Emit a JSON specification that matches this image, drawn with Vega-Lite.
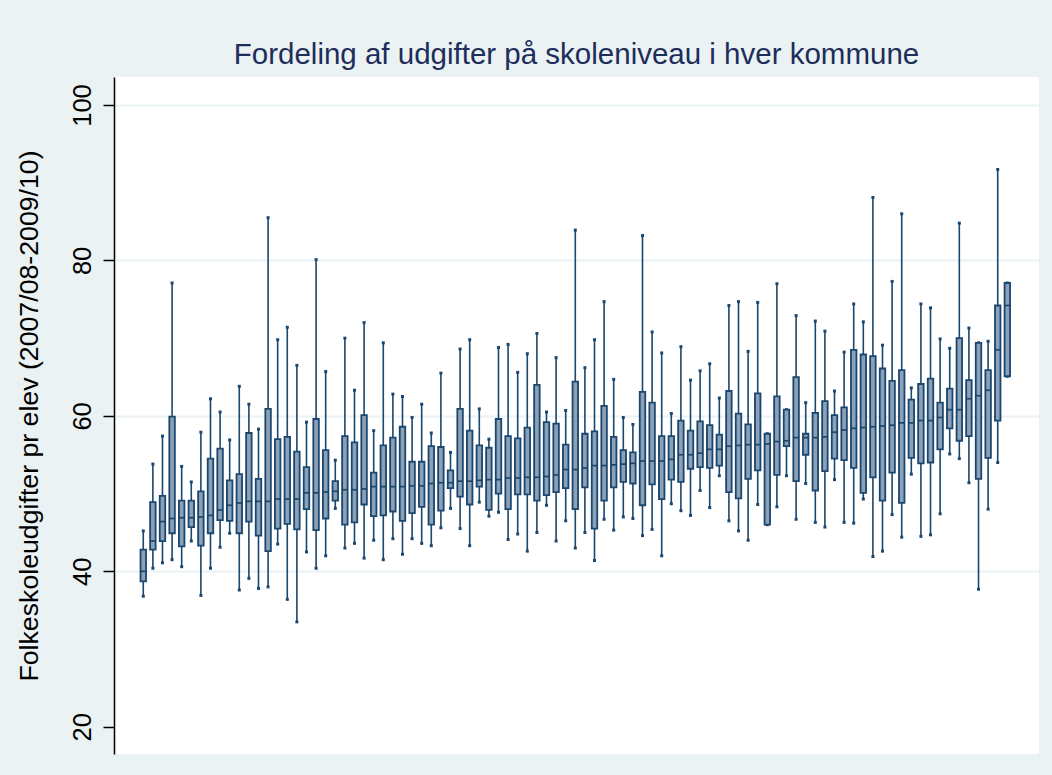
{
  "$schema": "https://vega.github.io/schema/vega-lite/v6.json",
  "width": 925,
  "height": 677,
  "autosize": "none",
  "padding": {"left": 114, "top": 77, "right": 13, "bottom": 21},
  "background": "#EAF2F3",
  "config": {
    "view": {"fill": "white", "stroke": null},
    "font": "Liberation Sans"
  },
  "title": {
    "text": "Fordeling af udgifter på skoleniveau i hver kommune",
    "fontSize": 29.5,
    "font": "Liberation Sans",
    "fontWeight": "normal",
    "color": "#1e2d5a",
    "anchor": "middle",
    "offset": 7
  },
  "data": {
    "values": [
      {"i":1,"lo":36.8,"q1":38.7,"med":40.0,"q3":42.8,"hi":45.2},
      {"i":2,"lo":40.4,"q1":42.8,"med":43.9,"q3":48.9,"hi":53.8},
      {"i":3,"lo":41.1,"q1":43.9,"med":46.4,"q3":49.7,"hi":57.4},
      {"i":4,"lo":41.5,"q1":44.9,"med":46.8,"q3":59.9,"hi":77.1},
      {"i":5,"lo":40.6,"q1":43.2,"med":46.9,"q3":49.1,"hi":53.5},
      {"i":6,"lo":43.9,"q1":45.7,"med":46.9,"q3":49.1,"hi":51.5},
      {"i":7,"lo":36.9,"q1":43.3,"med":47.0,"q3":50.3,"hi":57.9},
      {"i":8,"lo":40.4,"q1":44.9,"med":47.2,"q3":54.5,"hi":62.2},
      {"i":9,"lo":43.1,"q1":46.6,"med":47.9,"q3":55.8,"hi":60.5},
      {"i":10,"lo":44.9,"q1":46.5,"med":48.5,"q3":51.7,"hi":56.9},
      {"i":11,"lo":37.6,"q1":44.9,"med":48.8,"q3":52.5,"hi":63.8},
      {"i":12,"lo":39.1,"q1":46.4,"med":49.0,"q3":57.8,"hi":61.5},
      {"i":13,"lo":37.8,"q1":44.6,"med":49.0,"q3":51.9,"hi":58.3},
      {"i":14,"lo":38.0,"q1":42.6,"med":49.0,"q3":60.9,"hi":85.5},
      {"i":15,"lo":43.5,"q1":45.5,"med":49.3,"q3":57.0,"hi":69.8},
      {"i":16,"lo":36.4,"q1":46.1,"med":49.3,"q3":57.3,"hi":71.4},
      {"i":17,"lo":33.5,"q1":45.4,"med":49.3,"q3":55.4,"hi":66.5},
      {"i":18,"lo":42.5,"q1":48.0,"med":50.1,"q3":53.4,"hi":59.2},
      {"i":19,"lo":40.4,"q1":45.3,"med":50.1,"q3":59.6,"hi":80.1},
      {"i":20,"lo":42.0,"q1":46.8,"med":50.2,"q3":55.6,"hi":65.7},
      {"i":21,"lo":48.1,"q1":49.1,"med":50.3,"q3":51.6,"hi":54.3},
      {"i":22,"lo":43.0,"q1":46.0,"med":50.5,"q3":57.4,"hi":70.0},
      {"i":23,"lo":43.6,"q1":46.3,"med":50.5,"q3":56.6,"hi":63.3},
      {"i":24,"lo":41.7,"q1":48.6,"med":50.6,"q3":60.1,"hi":72.0},
      {"i":25,"lo":44.0,"q1":47.1,"med":50.9,"q3":52.7,"hi":58.1},
      {"i":26,"lo":41.5,"q1":47.2,"med":50.9,"q3":56.2,"hi":69.4},
      {"i":27,"lo":44.2,"q1":47.7,"med":50.9,"q3":57.2,"hi":62.8},
      {"i":28,"lo":42.2,"q1":46.5,"med":50.9,"q3":58.6,"hi":62.5},
      {"i":29,"lo":44.2,"q1":47.5,"med":51.0,"q3":54.1,"hi":59.8},
      {"i":30,"lo":43.6,"q1":48.3,"med":51.0,"q3":54.1,"hi":61.5},
      {"i":31,"lo":43.3,"q1":46.0,"med":51.3,"q3":56.1,"hi":57.8},
      {"i":32,"lo":45.6,"q1":47.8,"med":51.4,"q3":56.0,"hi":65.5},
      {"i":33,"lo":48.1,"q1":50.7,"med":51.4,"q3":53.0,"hi":55.3},
      {"i":34,"lo":45.5,"q1":49.6,"med":51.6,"q3":60.9,"hi":68.6},
      {"i":35,"lo":43.3,"q1":48.6,"med":51.6,"q3":58.1,"hi":69.8},
      {"i":36,"lo":48.9,"q1":50.9,"med":51.7,"q3":56.2,"hi":60.9},
      {"i":37,"lo":47.1,"q1":47.9,"med":51.8,"q3":55.9,"hi":57.0},
      {"i":38,"lo":47.6,"q1":50.0,"med":51.8,"q3":59.6,"hi":68.8},
      {"i":39,"lo":44.1,"q1":48.0,"med":52.0,"q3":57.4,"hi":69.2},
      {"i":40,"lo":44.8,"q1":49.9,"med":52.0,"q3":57.1,"hi":65.6},
      {"i":41,"lo":42.6,"q1":49.9,"med":52.1,"q3":58.5,"hi":68.0},
      {"i":42,"lo":45.0,"q1":49.1,"med":52.1,"q3":64.0,"hi":70.6},
      {"i":43,"lo":48.5,"q1":49.8,"med":52.2,"q3":59.2,"hi":60.5},
      {"i":44,"lo":43.9,"q1":50.2,"med":52.4,"q3":59.0,"hi":67.5},
      {"i":45,"lo":46.5,"q1":50.7,"med":53.1,"q3":56.3,"hi":60.7},
      {"i":46,"lo":43.0,"q1":48.0,"med":53.1,"q3":64.4,"hi":83.9},
      {"i":47,"lo":45.0,"q1":50.8,"med":53.3,"q3":57.7,"hi":66.2},
      {"i":48,"lo":41.4,"q1":45.5,"med":53.6,"q3":58.0,"hi":69.8},
      {"i":49,"lo":46.7,"q1":49.1,"med":53.6,"q3":61.3,"hi":74.7},
      {"i":50,"lo":45.3,"q1":50.8,"med":53.7,"q3":57.3,"hi":64.7},
      {"i":51,"lo":47.0,"q1":51.5,"med":53.8,"q3":55.6,"hi":59.8},
      {"i":52,"lo":46.8,"q1":51.3,"med":53.9,"q3":55.3,"hi":58.9},
      {"i":53,"lo":44.6,"q1":48.5,"med":54.2,"q3":63.1,"hi":83.2},
      {"i":54,"lo":45.4,"q1":51.2,"med":54.2,"q3":61.7,"hi":70.8},
      {"i":55,"lo":42.0,"q1":49.3,"med":54.2,"q3":57.4,"hi":68.1},
      {"i":56,"lo":48.7,"q1":51.8,"med":54.4,"q3":57.4,"hi":60.3},
      {"i":57,"lo":47.8,"q1":51.5,"med":55.0,"q3":59.4,"hi":68.9},
      {"i":58,"lo":47.2,"q1":53.2,"med":55.0,"q3":58.1,"hi":64.6},
      {"i":59,"lo":50.4,"q1":53.4,"med":55.2,"q3":59.3,"hi":65.8},
      {"i":60,"lo":48.2,"q1":53.3,"med":55.7,"q3":58.8,"hi":66.7},
      {"i":61,"lo":52.3,"q1":53.6,"med":55.7,"q3":57.6,"hi":62.3},
      {"i":62,"lo":46.5,"q1":50.2,"med":56.1,"q3":63.2,"hi":74.2},
      {"i":63,"lo":45.2,"q1":49.4,"med":56.2,"q3":60.3,"hi":74.7},
      {"i":64,"lo":44.0,"q1":51.9,"med":56.3,"q3":58.9,"hi":68.3},
      {"i":65,"lo":48.6,"q1":53.0,"med":56.3,"q3":62.9,"hi":74.6},
      {"i":66,"lo":46.0,"q1":46.0,"med":56.4,"q3":57.7,"hi":57.7},
      {"i":67,"lo":48.3,"q1":52.4,"med":56.7,"q3":62.5,"hi":77.0},
      {"i":68,"lo":52.3,"q1":56.1,"med":56.8,"q3":60.8,"hi":60.8},
      {"i":69,"lo":46.7,"q1":51.6,"med":57.2,"q3":65.0,"hi":72.9},
      {"i":70,"lo":51.3,"q1":55.0,"med":57.2,"q3":57.7,"hi":61.7},
      {"i":71,"lo":46.3,"q1":50.4,"med":57.2,"q3":60.4,"hi":72.2},
      {"i":72,"lo":45.7,"q1":52.9,"med":57.3,"q3":61.9,"hi":70.9},
      {"i":73,"lo":51.8,"q1":54.5,"med":57.9,"q3":60.1,"hi":63.2},
      {"i":74,"lo":46.3,"q1":54.3,"med":58.2,"q3":61.1,"hi":68.2},
      {"i":75,"lo":46.2,"q1":53.3,"med":58.4,"q3":68.5,"hi":74.4},
      {"i":76,"lo":49.3,"q1":50.1,"med":58.5,"q3":67.9,"hi":72.1},
      {"i":77,"lo":41.9,"q1":52.1,"med":58.6,"q3":67.7,"hi":88.1},
      {"i":78,"lo":42.6,"q1":49.1,"med":58.7,"q3":66.1,"hi":69.1},
      {"i":79,"lo":47.3,"q1":52.7,"med":58.8,"q3":64.5,"hi":77.3},
      {"i":80,"lo":44.4,"q1":48.8,"med":59.1,"q3":65.9,"hi":86.0},
      {"i":81,"lo":52.5,"q1":54.6,"med":59.1,"q3":62.1,"hi":63.6},
      {"i":82,"lo":44.5,"q1":53.9,"med":59.4,"q3":64.1,"hi":74.4},
      {"i":83,"lo":44.7,"q1":54.0,"med":59.4,"q3":64.8,"hi":73.9},
      {"i":84,"lo":47.4,"q1":55.7,"med":59.8,"q3":61.7,"hi":69.9},
      {"i":85,"lo":55.1,"q1":58.4,"med":60.8,"q3":63.5,"hi":68.7},
      {"i":86,"lo":54.5,"q1":56.8,"med":60.8,"q3":70.0,"hi":84.8},
      {"i":87,"lo":51.4,"q1":57.4,"med":62.2,"q3":64.6,"hi":71.3},
      {"i":88,"lo":37.7,"q1":51.9,"med":62.6,"q3":69.4,"hi":69.4},
      {"i":89,"lo":48.0,"q1":54.6,"med":63.3,"q3":65.9,"hi":69.6},
      {"i":90,"lo":54.0,"q1":59.4,"med":68.5,"q3":74.2,"hi":91.7},
      {"i":91,"lo":65.1,"q1":65.1,"med":74.2,"q3":77.1,"hi":77.1}
    ]
  },
  "encoding": {
    "x": {"field": "i", "type": "quantitative", "scale": {"domain": [-2.05, 94.3], "nice": false, "zero": false, "padding": 0}, "axis": null}
  },
  "layer": [
    {
      "mark": {"type": "rule", "color": "#1a476f", "strokeWidth": 1.6},
      "encoding": {
        "y": {
          "field": "lo", "type": "quantitative",
          "scale": {"domain": [16.5, 103.6], "nice": false, "zero": false, "padding": 0},
          "axis": {
            "values": [20, 40, 60, 80, 100],
            "title": "Folkeskoleudgifter pr elev (2007/08-2009/10)",
            "titleFontSize": 26.7,
            "titleFont": "Liberation Sans",
            "titleFontWeight": "normal",
            "titleColor": "black",
            "titleBaseline": "alphabetic",
            "titleX": -77,
            "labelAngle": -90,
            "labelAlign": "center",
            "labelBaseline": "alphabetic",
            "labelFontSize": 25.5,
            "labelFont": "Liberation Sans",
            "labelColor": "black",
            "labelPadding": 13,
            "tickColor": "black",
            "tickSize": 11,
            "tickWidth": 1.5,
            "domainColor": "black",
            "domainWidth": 1.5,
            "gridColor": "#EAF2F3",
            "gridWidth": 2,
            "gridOpacity": {"condition": {"test": "datum.value === 20", "value": 0}, "value": 1}
          }
        },
        "y2": {"field": "hi"}
      }
    },
    {
      "mark": {"type": "point", "shape": "square", "filled": true, "size": 9, "color": "#1a476f", "opacity": 1},
      "encoding": {"y": {"field": "lo", "type": "quantitative"}}
    },
    {
      "mark": {"type": "point", "shape": "square", "filled": true, "size": 9, "color": "#1a476f", "opacity": 1},
      "encoding": {"y": {"field": "hi", "type": "quantitative"}}
    },
    {
      "mark": {"type": "bar", "width": 5.5, "fill": "#8ca0b7", "stroke": "#1a476f", "strokeWidth": 1.8},
      "encoding": {
        "y": {"field": "q1", "type": "quantitative"},
        "y2": {"field": "q3"}
      }
    },
    {
      "mark": {"type": "tick", "orient": "horizontal", "size": 6, "thickness": 1.7, "color": "#1a476f", "opacity": 1},
      "encoding": {"y": {"field": "med", "type": "quantitative"}}
    }
  ]
}
